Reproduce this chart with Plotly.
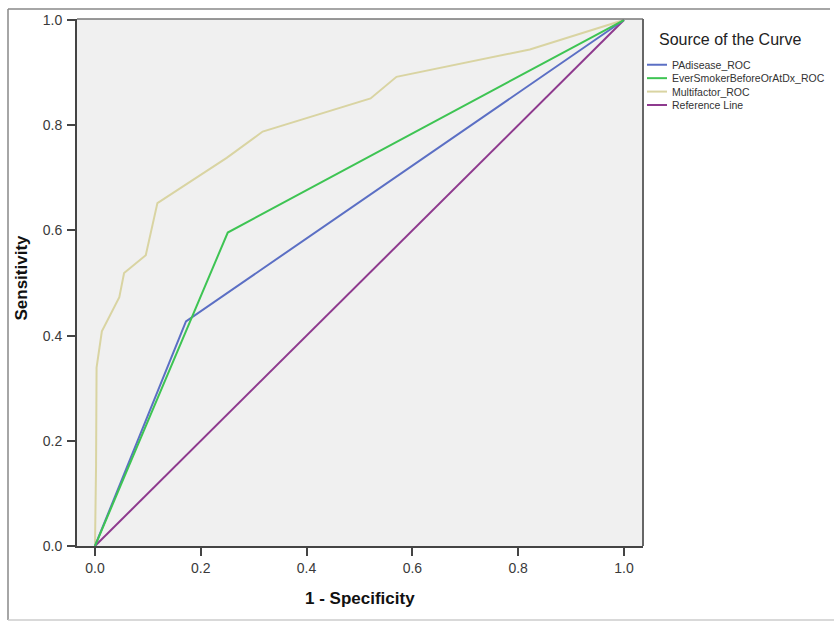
import plotly.graph_objects as go

# ROC curve coordinates (1 - specificity, sensitivity)
padisease_fpr = [0.0, 0.172, 1.0]
padisease_tpr = [0.0, 0.427, 1.0]

smoker_fpr = [0.0, 0.251, 1.0]
smoker_tpr = [0.0, 0.596, 1.0]

multi_fpr = [0.0, 0.002, 0.003, 0.013, 0.046, 0.055, 0.096, 0.118,
             0.249, 0.317, 0.521, 0.570, 0.822, 1.0]
multi_tpr = [0.0, 0.150, 0.339, 0.408, 0.473, 0.519, 0.553, 0.652,
             0.738, 0.788, 0.851, 0.892, 0.944, 1.0]

ref_fpr = [0.0, 1.0]
ref_tpr = [0.0, 1.0]

series_names = ["PAdisease_ROC", "EverSmokerBeforeOrAtDx_ROC",
                "Multifactor_ROC", "Reference Line"]
series_colors = ["#5b6fc4", "#3ec453", "#d9d4a2", "#8e3a8e"]

tick_vals = [0.0, 0.2, 0.4, 0.6, 0.8, 1.0]
tick_text = ["0.0", "0.2", "0.4", "0.6", "0.8", "1.0"]

W, H = 834, 622
L, R, T, B = 77, 643, 16, 546


def px(x):
    return (x - L) / (R - L)


def py(y):
    return (B - y) / (B - T)


fig = go.Figure()
xs = [padisease_fpr, smoker_fpr, multi_fpr, ref_fpr]
ys = [padisease_tpr, smoker_tpr, multi_tpr, ref_tpr]
# draw order: beige curve underneath the others
for i in [2, 3, 0, 1]:
    fig.add_trace(go.Scatter(x=xs[i], y=ys[i], mode="lines", name=series_names[i],
                             line=dict(color=series_colors[i], width=2),
                             showlegend=False, hoverinfo="skip"))

axis_common = dict(
    tickvals=tick_vals, ticktext=tick_text, ticks="outside", ticklen=8,
    tickwidth=2, tickcolor="#444", showgrid=False, zeroline=False,
    showline=True, linecolor="#444", linewidth=2,
    tickfont=dict(family="Liberation Sans, Arial", size=14, color="#3a3a3a"),
)

fig.update_layout(
    width=W, height=H,
    margin=dict(l=L, r=W - R, t=T, b=H - B, pad=0),
    paper_bgcolor="white", plot_bgcolor="#f0f0f0",
    xaxis=dict(range=[-0.034, 1.036], **axis_common),
    yaxis=dict(range=[0, 1.002], ticklabelstandoff=2, **axis_common),
    showlegend=False,
)

shapes = []
# plot-area border on top and right
shapes.append(dict(type="line", xref="paper", yref="paper", x0=0, x1=1, y0=1, y1=1,
                   line=dict(color="#777", width=1.5)))
shapes.append(dict(type="line", xref="paper", yref="paper", x0=1, x1=1, y0=0, y1=1,
                   line=dict(color="#666", width=2)))
# outer frame
shapes.append(dict(type="line", xref="paper", yref="paper", x0=px(8), x1=px(830),
                   y0=py(6), y1=py(6), line=dict(color="#888", width=1.5)))
shapes.append(dict(type="line", xref="paper", yref="paper", x0=px(8), x1=px(8),
                   y0=py(6), y1=py(620.5), line=dict(color="#888", width=1.5)))
shapes.append(dict(type="line", xref="paper", yref="paper", x0=px(8), x1=px(834),
                   y0=py(620.5), y1=py(620.5), line=dict(color="#ccc", width=1.5)))

annotations = []
# legend
annotations.append(dict(text="Source of the Curve", xref="paper", yref="paper",
                        x=px(657), y=py(37), xanchor="left", yanchor="middle",
                        showarrow=False,
                        font=dict(family="Liberation Sans, Arial", size=16, color="#222")))
legend_rows = [62, 75.5, 89, 102.5]
for name, color, yy in zip(series_names, series_colors, legend_rows):
    shapes.append(dict(type="line", xref="paper", yref="paper", x0=px(647), x1=px(667),
                       y0=py(yy), y1=py(yy), line=dict(color=color, width=2)))
    annotations.append(dict(text=name, xref="paper", yref="paper", x=px(670), y=py(yy),
                            xanchor="left", yanchor="middle", showarrow=False,
                            font=dict(family="Liberation Sans, Arial", size=10.5,
                                      color="#333")))
# axis titles
annotations.append(dict(text="<b>1 - Specificity</b>", xref="paper", yref="paper",
                        x=px(360), y=py(599), xanchor="center", yanchor="middle",
                        showarrow=False,
                        font=dict(family="Liberation Sans, Arial", size=17, color="#111")))
annotations.append(dict(text="<b>Sensitivity</b>", xref="paper", yref="paper",
                        x=px(22), y=py(276), xanchor="center", yanchor="middle",
                        textangle=-90, showarrow=False,
                        font=dict(family="Liberation Sans, Arial", size=17, color="#111")))

fig.update_layout(shapes=shapes, annotations=annotations)

fig.write_html("out.html")
